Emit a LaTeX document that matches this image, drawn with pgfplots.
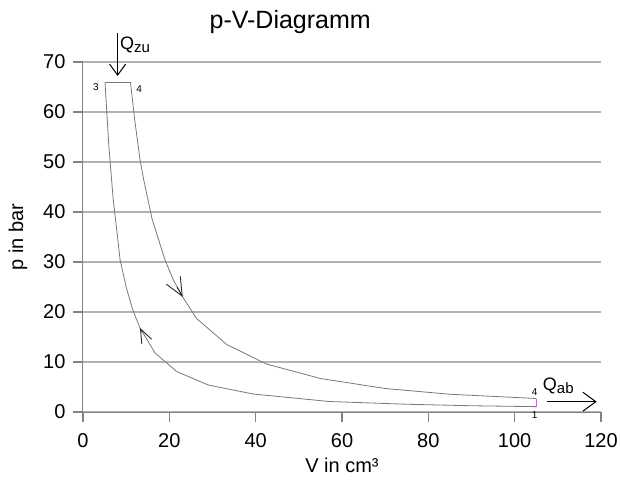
\documentclass[border=0pt]{standalone}
\usepackage{fontspec}
\setmainfont{Liberation Sans}
\usepackage{pgfplots}
\pgfplotsset{compat=1.18}
\usetikzlibrary{arrows.meta}

\definecolor{gridgray}{RGB}{178,178,178}
\definecolor{curvegray}{RGB}{120,120,120}
\definecolor{axisgray}{RGB}{130,130,130}
\definecolor{lila}{RGB}{200,110,200}
\definecolor{arrowdark}{RGB}{40,40,40}

\begin{document}
\begin{tikzpicture}
\path[use as bounding box] (-83pt,-83pt) rectangle (537pt,412pt);
\begin{axis}[
  scale only axis,
  width=518pt, height=350pt,
  xmin=0, xmax=120, ymin=0, ymax=70,
  xtick={0,20,...,120}, ytick={0,10,...,70},
  axis x line*=bottom, axis y line*=left,
  axis line style={axisgray, line width=1pt},
  every tick/.style={axisgray, line width=1.1pt},
  tick align=outside,
  major tick length=10pt,
  every major tick/.append style={major tick length=10pt},
  ymajorgrids,
  grid style={gridgray, line width=1.2pt},
  ticklabel style={font=\fontsize{20}{20}\selectfont},
  xticklabel style={yshift=-8pt},
  yticklabel style={xshift=-4pt},
  /pgf/number format/assume math mode=true,
  clip=false,
  xlabel={V in cm³}, ylabel={p in bar},
  label style={font=\fontsize{20}{20}\selectfont},
  xlabel style={at={(axis description cs:0.5,-0.151)}, anchor=center},
  ylabel style={at={(axis description cs:-0.1255,0.5)}, anchor=center},
]

% top segment 3-4 and expansion 4-1
\addplot[curvegray, line width=0.8pt] coordinates {
  (5.1,65.9) (11,65.9) (12,58.3) (13.2,50.5) (14,46.7) (16,38.6) (19,30.4)
  (21,26.3) (23.1,23.0) (26.3,18.7) (33.3,13.5) (42.5,9.6) (55,6.7)
  (70,4.7) (85,3.55) (105,2.7)
};
% isochoric at V=105
\addplot[lila, line width=0.8pt] coordinates {(105,2.7) (105,1.07)};
% compression 1-3
\addplot[curvegray, line width=0.8pt] coordinates {
  (105,1.07) (90,1.25) (75,1.55) (57,2.1) (39.4,3.6) (29,5.4) (21.7,8.1)
  (16.7,11.8) (13.2,16.8) (11.5,20.5) (10,25) (8.6,30.4) (8,35) (7,42.5)
  (6,53) (5.1,65.9)
};

\draw[arrowdark, line width=0.9pt, -{Straight Barb[length=18pt,width=16pt]}]
  (axis cs:21.8,25.0) -- (axis cs:23.1,23.0);
\draw[arrowdark, line width=0.9pt, -{Straight Barb[length=14pt,width=11pt]}]
  (axis cs:13.6,16.1) -- (axis cs:13.2,16.8);

\draw[black, line width=1pt, -{Straight Barb[length=11pt,width=16pt]}]
  (axis cs:8.02,75.8) -- (axis cs:8.02,67.2);
\node[anchor=base west, inner sep=0, font=\fontsize{18}{18}\selectfont]
  at (axis cs:8.56,72.4) {Q\raisebox{-3pt}{\fontsize{15}{15}\selectfont zu}};

\draw[black, line width=1pt, -{Straight Barb[length=13pt,width=19pt]}]
  (axis cs:107.6,2.06) -- (axis cs:119,2.06);
\node[anchor=base west, inner sep=0, font=\fontsize{18}{18}\selectfont]
  at (axis cs:106.5,4.4) {Q\raisebox{-3pt}{\fontsize{15}{15}\selectfont ab}};

\node[font=\fontsize{10}{10}\selectfont] at (axis cs:3.0,64.9) {3};
\node[font=\fontsize{10}{10}\selectfont] at (axis cs:13.0,64.5) {4};
\node[font=\fontsize{10}{10}\selectfont] at (axis cs:104.6,4.06) {4};
\node[font=\fontsize{10}{10}\selectfont] at (axis cs:104.6,-0.6) {1};

\node[font=\fontsize{25}{25}\selectfont] at (axis description cs:0.4,1.114) {p-V-Diagramm};
\end{axis}
\end{tikzpicture}
\end{document}
